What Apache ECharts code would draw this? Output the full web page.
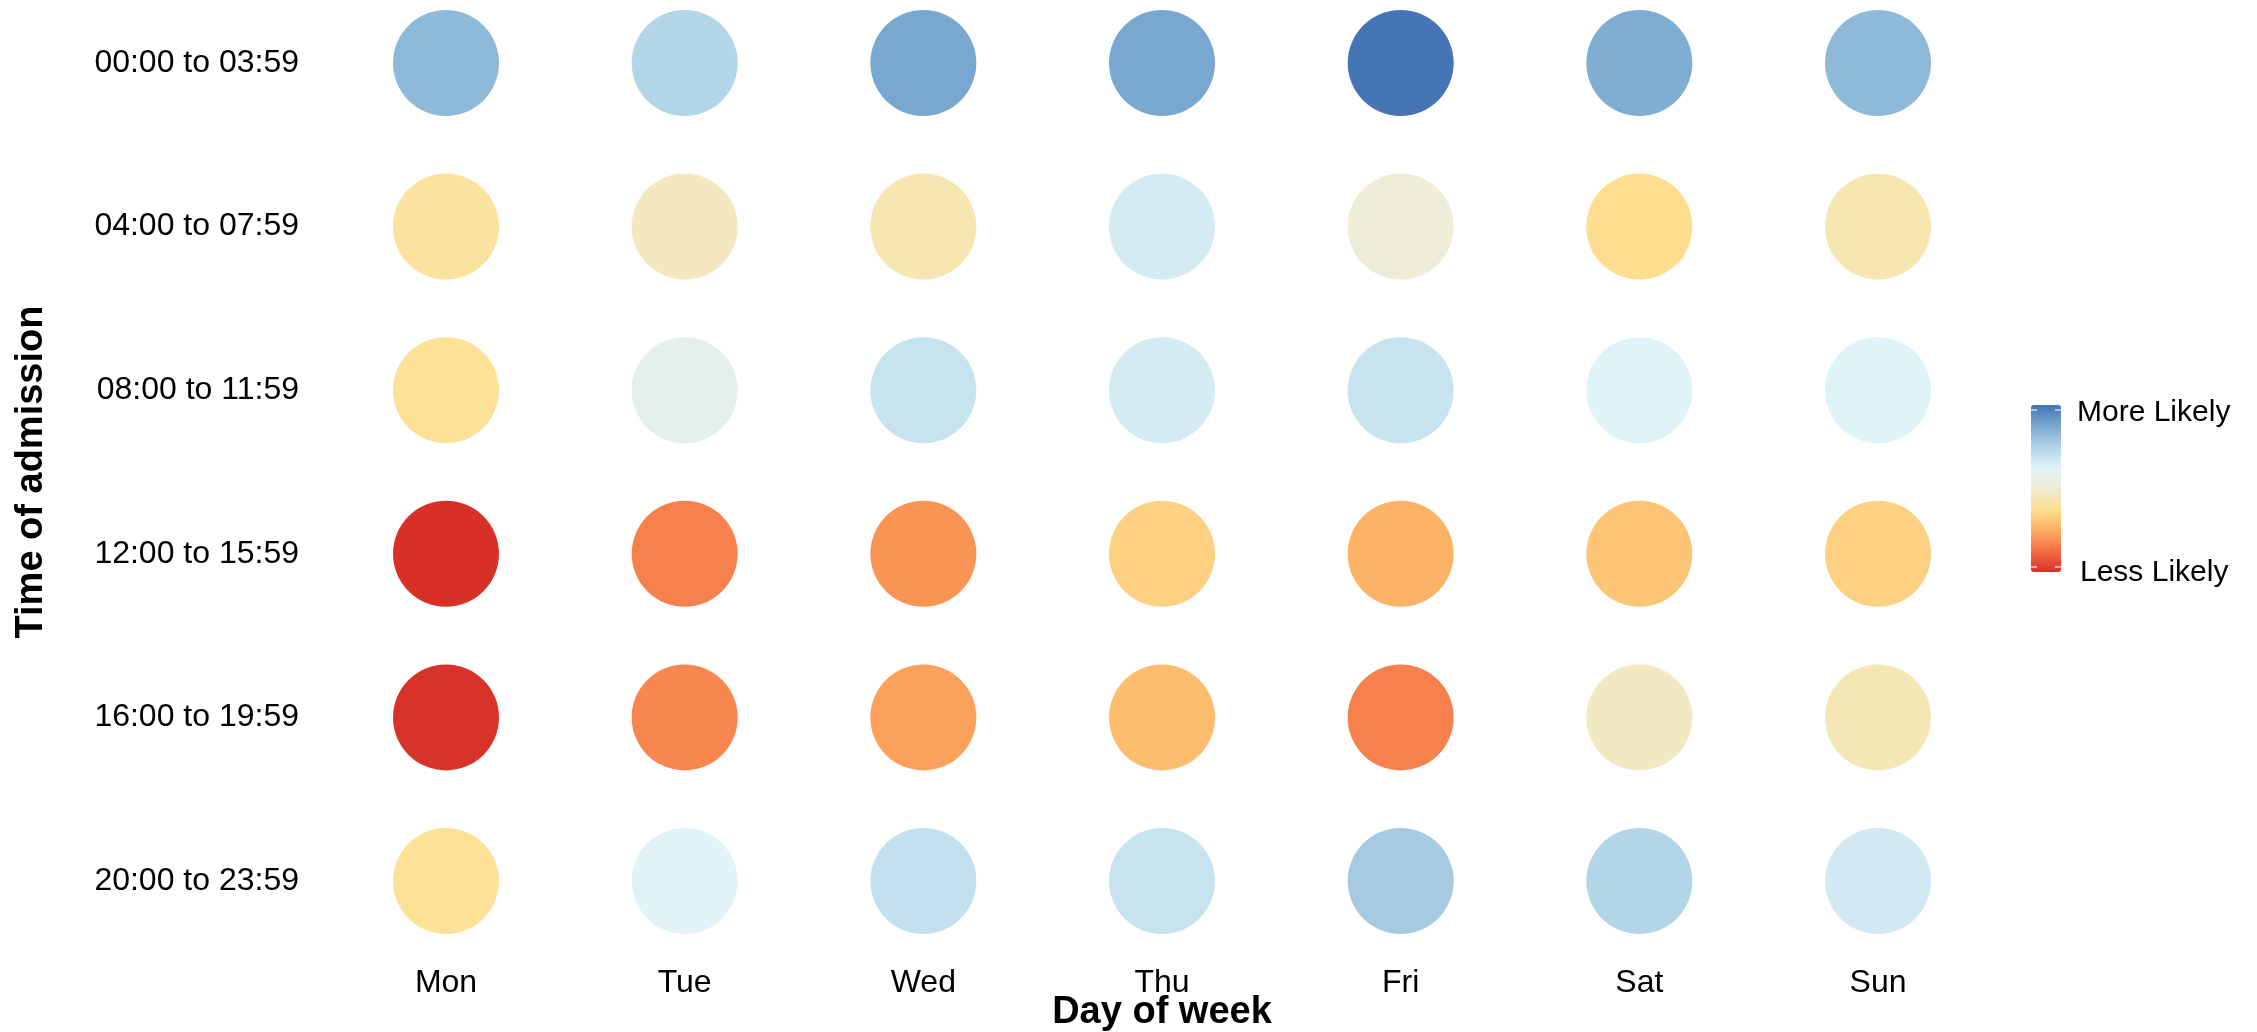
<!DOCTYPE html>
<html>
<head>
<meta charset="utf-8">
<script src="https://cdn.jsdelivr.net/npm/echarts@6/dist/echarts.min.js"></script>
<style>
html,body{margin:0;padding:0;background:#fff;}
#chart{width:2257px;height:1032px;}
</style>
</head>
<body>
<div id="chart"></div>
<script>
const days = ['Mon','Tue','Wed','Thu','Fri','Sat','Sun'];
const times = ['00:00 to 03:59','04:00 to 07:59','08:00 to 11:59','12:00 to 15:59','16:00 to 19:59','20:00 to 23:59'];
// likelihood score (0 = less likely, 8 = more likely), one array per time slot, Mon..Sun
const slot0000 = [6.6, 5.95, 7.0, 7.0, 8.0, 6.85, 6.6];
const slot0400 = [3.2, 3.7, 3.5, 5.25, 4.1, 2.95, 3.5];
const slot0800 = [3.1, 4.6, 5.5, 5.25, 5.5, 5.0, 5.0];
const slot1200 = [0.0, 1.3, 1.6, 2.7, 2.1, 2.45, 2.7];
const slot1600 = [0.05, 1.4, 1.8, 2.3, 1.3, 3.75, 3.55];
const slot2000 = [3.1, 4.95, 5.6, 5.5, 6.2, 5.95, 5.3];
const slots = [slot0000, slot0400, slot0800, slot1200, slot1600, slot2000];
const palette = ['#d73027','#f46d43','#fdae61','#fee090','#eeecd4','#e0f3f8','#b0d3e7','#78a8cf','#4575b4'];
const legendText = ['More Likely','Less Likely'];

const data = [];
slots.forEach((row, r) => row.forEach((v, c) => data.push([c, r, v])));

const font = 'Liberation Sans, Arial, sans-serif';
const tick = (x, y) => ({type: 'line', shape: {x1: x, y1: y, x2: x + 6, y2: y}, style: {stroke: 'rgba(255,255,255,0.7)', lineWidth: 1.5}, z: 100});
const chart = echarts.init(document.getElementById('chart'));
chart.setOption({
  backgroundColor: '#ffffff',
  animation: false,
  grid: {left: 446, right: 379, top: 63, bottom: 151, containLabel: false, outerBoundsMode: 'none'},
  xAxis: {
    type: 'category', data: days, boundaryGap: false,
    axisLine: {show: false}, axisTick: {show: false}, splitLine: {show: false},
    axisLabel: {color: '#000', fontSize: 32, fontFamily: font, margin: 86},
    name: 'Day of week', nameLocation: 'middle', nameGap: 113, nameMoveOverlap: false,
    nameTextStyle: {color: '#000', fontSize: 38, fontWeight: 'bold', fontFamily: font}
  },
  yAxis: {
    type: 'category', data: times, inverse: true, boundaryGap: false,
    axisLine: {show: false}, axisTick: {show: false}, splitLine: {show: false},
    axisLabel: {color: '#000', fontSize: 32, fontFamily: font, margin: 147},
    name: 'Time of admission', nameLocation: 'middle', nameGap: 395, nameRotate: 90, nameMoveOverlap: false,
    nameTextStyle: {color: '#000', fontSize: 38, fontWeight: 'bold', fontFamily: font}
  },
  visualMap: {
    type: 'continuous', min: 0, max: 8, dimension: 2, calculable: false,
    orient: 'vertical', left: 2031, top: 405, itemWidth: 30, itemHeight: 167,
    padding: 0, text: null, showLabel: false, hoverLink: false,
    inRange: {color: palette}
  },
  graphic: [
    {type: 'text', left: 2077, top: 398, style: {text: legendText[0], fontSize: 30, fontFamily: font, fill: '#000'}},
    {type: 'text', left: 2080, top: 558, style: {text: legendText[1], fontSize: 30, fontFamily: font, fill: '#000'}},
    tick(2031, 410), tick(2055, 410), tick(2031, 567), tick(2055, 567)
  ],
  series: [{
    type: 'scatter', data: data, symbol: 'circle', symbolSize: 106,
    itemStyle: {opacity: 1}
  }]
});
</script>
</body>
</html>
